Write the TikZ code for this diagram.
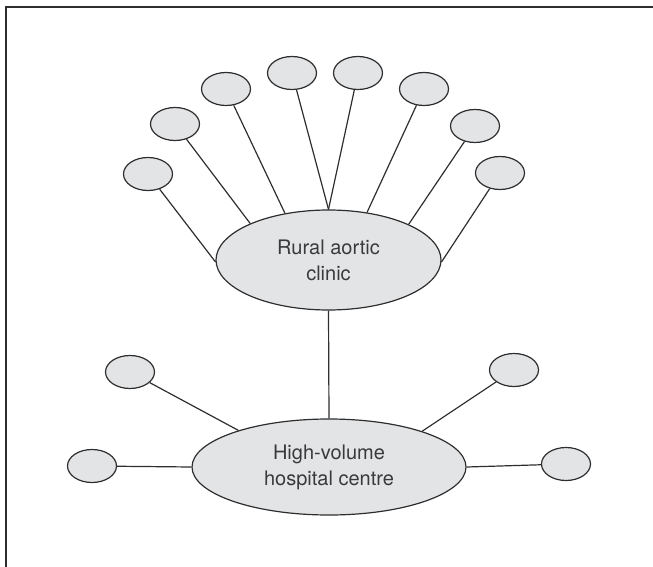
\documentclass[tikz,border=0pt]{standalone}
\usepackage{fontspec}
\setmainfont{TeX Gyre Heros}
\usetikzlibrary{shapes.geometric}
\definecolor{lin}{HTML}{2E2E2E}
\definecolor{fil}{HTML}{E3E4E6}
\definecolor{txt}{HTML}{3A3A3A}
\tikzset{
  sat/.style={ellipse, draw=lin, fill=fil, line width=1.2pt, minimum width=49pt, minimum height=33pt, inner sep=0pt},
  hub/.style={ellipse, draw=lin, fill=fil, line width=1.2pt, inner sep=0pt, align=center, text=txt,
    font=\fontsize{20pt}{26pt}\selectfont},
  con/.style={draw=lin, line width=1.2pt},
  frame/.style={draw=lin, line width=1.4pt}
}
\begin{document}
\begin{tikzpicture}[x=1pt,y=-1pt]
\useasboundingbox (0,0) rectangle (653,567);
\coordinate (fb) at (6,567);
\coordinate (fc) at (6,7);
\coordinate (fr) at (653,7);
\draw[frame] (fb) -- (fc) -- (fr);

\node[hub, minimum width=225pt, minimum height=100pt] (R) at (328.5,260) {Rural aortic\\clinic};
\node[hub, minimum width=274pt, minimum height=96pt] (H) at (329,467) {High-volume\\hospital centre};

\node[sat] (a1) at (148,174) {};
\node[sat] (a2) at (175,124) {};
\node[sat] (a3) at (226,89) {};
\node[sat] (a4) at (292,73) {};
\node[sat] (a5) at (358,73) {};
\node[sat] (a6) at (424,89) {};
\node[sat] (a7) at (475,126) {};
\node[sat] (a8) at (500,173) {};

\node[sat] (b1) at (130,372) {};
\node[sat] (b2) at (514,370) {};
\node[sat] (b3) at (92,466) {};
\node[sat] (b4) at (566,464) {};

\draw[con] (a1) -- (R.181);
\draw[con] (a2) -- (R.155);
\draw[con] (a3) -- (R.133);
\draw[con] (a4) -- (R.90);
\draw[con] (a5) -- (R.90);
\draw[con] (a6) -- (R.51);
\draw[con] (a7) -- (R.24);
\draw[con] (a8) -- (R.-1);
\draw[con] (R.south) -- (H.north);
\draw[con] (b1) -- (H.158.5);
\draw[con] (b2) -- (H.21.5);
\draw[con] (b3) -- (H.west);
\draw[con] (b4) -- (H.east);
\end{tikzpicture}
\end{document}
